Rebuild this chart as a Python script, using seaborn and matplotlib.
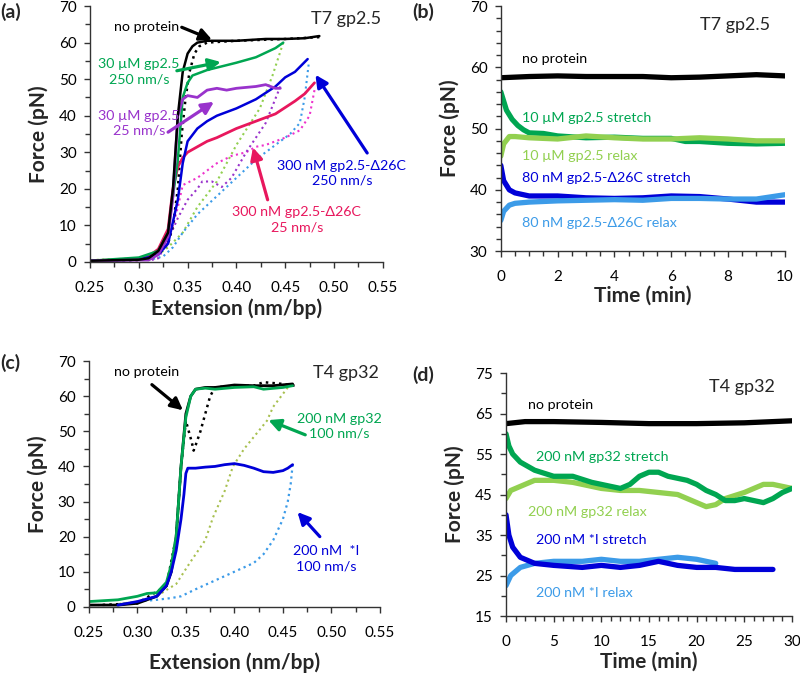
import numpy as np
import pandas as pd
import seaborn as sns
import matplotlib.pyplot as plt
from matplotlib.ticker import MultipleLocator

sns.set_theme(style="ticks")
plt.rcParams['font.family'] = ['Lato', 'DejaVu Sans']

# ---------------- data: panel (a) T7 gp2.5 force-extension ----------------
a_np_str_x = [0.25, 0.28, 0.30, 0.31, 0.32, 0.33, 0.335, 0.34, 0.345, 0.35, 0.355, 0.36, 0.37, 0.40, 0.43, 0.45, 0.47, 0.485]
a_np_str_y = [0.3, 0.5, 0.6, 1.0, 3.0, 8.0, 20, 40, 52, 57, 59, 60, 60.5, 60.5, 61, 61, 61.2, 61.8]
a_np_rel_x = [0.485, 0.45, 0.40, 0.37, 0.362, 0.357, 0.352, 0.348, 0.344, 0.34, 0.335, 0.33, 0.32, 0.30, 0.25]
a_np_rel_y = [61.5, 61, 60.5, 60, 59, 57, 52, 45, 35, 20, 10, 5, 2, 0.5, 0.3]

a_g_str_x = [0.25, 0.30, 0.32, 0.33, 0.34, 0.345, 0.35, 0.355, 0.37, 0.40, 0.42, 0.44, 0.448]
a_g_str_y = [0.3, 1.2, 3, 8, 28, 45, 49, 51, 52.5, 54.5, 56, 58.5, 60]
a_g_rel_x = [0.448, 0.437, 0.424, 0.40, 0.38, 0.36, 0.345, 0.33, 0.32, 0.30, 0.25]
a_g_rel_y = [60, 51, 42, 32, 22, 15, 8, 4, 2, 1, 0.5]

a_p_str_x = [0.25, 0.30, 0.31, 0.32, 0.33, 0.335, 0.34, 0.345, 0.35, 0.36, 0.37, 0.38, 0.39, 0.40, 0.42, 0.43, 0.44, 0.445]
a_p_str_y = [0.3, 0.5, 0.5, 2, 7, 18, 40, 44.5, 45.5, 45, 47, 47.5, 47, 47.5, 48, 48.5, 47.5, 47.5]
a_p_rel_x = [0.445, 0.43, 0.41, 0.395, 0.385, 0.375, 0.365, 0.36, 0.35, 0.34, 0.33, 0.32, 0.31]
a_p_rel_y = [48, 38, 30, 23, 20.5, 22, 22, 20, 17, 12, 6, 1, 0.3]

a_r_str_x = [0.25, 0.30, 0.31, 0.32, 0.33, 0.335, 0.34, 0.345, 0.35, 0.36, 0.37, 0.38, 0.40, 0.42, 0.44, 0.46, 0.47, 0.48]
a_r_str_y = [0.3, 0.8, 1.5, 3.5, 9, 20, 26, 28.5, 30, 31.5, 33, 34, 36.5, 38.5, 40.5, 44, 46, 49]
a_r_rel_x = [0.48, 0.475, 0.465, 0.45, 0.43, 0.42, 0.41, 0.395, 0.38, 0.36, 0.345, 0.34, 0.335, 0.33, 0.32, 0.30, 0.25]
a_r_rel_y = [47, 40, 36, 34, 32, 31.5, 30, 29, 27, 23, 21, 15, 10, 6, 2, 0.5, 0.3]

a_b_str_x = [0.25, 0.30, 0.32, 0.33, 0.34, 0.345, 0.35, 0.36, 0.37, 0.38, 0.40, 0.42, 0.44, 0.45, 0.46, 0.473]
a_b_str_y = [0.3, 0.6, 2, 5, 17, 27, 33, 36.5, 38.5, 40, 42, 44.5, 48, 50.5, 52, 55.5]
a_b_rel_x = [0.474, 0.47, 0.465, 0.455, 0.44, 0.42, 0.40, 0.38, 0.36, 0.345, 0.335, 0.325, 0.31]
a_b_rel_y = [54, 45, 38, 35, 32, 28, 23, 18, 13, 8, 4, 1.5, 0.5]

# ---------------- data: panel (b) T7 gp2.5 force vs time ----------------
b_np_t = [0, 1, 2, 3, 4, 5, 6, 7, 8, 9, 10]
b_np_f = [58.3, 58.5, 58.6, 58.5, 58.5, 58.5, 58.3, 58.4, 58.6, 58.8, 58.6]
b_gs_t = [0, 0.1, 0.2, 0.4, 0.6, 0.8, 1, 1.5, 2, 3, 4, 5, 6, 6.5, 7, 8, 9, 10]
b_gs_f = [56, 54.5, 53, 51.5, 50.5, 49.8, 49.3, 49.2, 48.8, 48.5, 48.6, 48.4, 48.4, 47.9, 47.9, 47.6, 47.5, 47.6]
b_gr_t = [0, 0.1, 0.3, 0.5, 1, 2, 3, 4, 5, 6, 7, 8, 9, 10]
b_gr_f = [45.5, 47.5, 48.7, 48.7, 48.5, 48.3, 48.8, 48.5, 48.3, 48.3, 48.5, 48.3, 48.0, 48.0]
b_bs_t = [0, 0.1, 0.3, 0.5, 1, 2, 3, 4, 5, 6, 7, 8, 9, 10]
b_bs_f = [44, 41.5, 40, 39.5, 39, 39, 38.7, 38.6, 38.7, 39, 38.9, 38.5, 38, 38]
b_br_t = [0, 0.1, 0.3, 0.5, 1, 2, 3, 4, 5, 6, 7, 8, 9, 10]
b_br_f = [35, 36.5, 37.5, 37.8, 38, 38.2, 38.3, 38.4, 38.3, 38.6, 38.6, 38.5, 38.5, 39.2]

# ---------------- data: panel (c) T4 gp32 force-extension ----------------
c_np_str_x = [0.25, 0.28, 0.30, 0.32, 0.33, 0.335, 0.34, 0.345, 0.35, 0.355, 0.36, 0.37, 0.38, 0.40, 0.42, 0.44, 0.46]
c_np_str_y = [0.5, 0.5, 1, 3, 6, 10, 20, 40, 55, 60, 62, 62.5, 62.5, 63.2, 63, 63, 63.5]
c_np_rel_x = [0.462, 0.45, 0.43, 0.42, 0.40, 0.38, 0.375, 0.37, 0.365, 0.36, 0.358, 0.356, 0.353, 0.35, 0.345, 0.34, 0.33, 0.30, 0.26]
c_np_rel_y = [63, 63.5, 64, 63, 63, 62.5, 60, 55, 50, 46, 44.5, 47, 50, 53, 40, 20, 6, 1, 0.5]
c_g_str_x = [0.25, 0.28, 0.30, 0.31, 0.32, 0.33, 0.335, 0.34, 0.345, 0.35, 0.355, 0.36, 0.37, 0.38, 0.40, 0.42, 0.43, 0.45, 0.46]
c_g_str_y = [1.5, 2, 3, 3.8, 4, 7, 12, 20, 40, 54, 60, 62, 62.3, 62, 62.5, 62.7, 62, 62.5, 63]
c_g_rel_x = [0.455, 0.44, 0.4335, 0.41, 0.3985, 0.39, 0.378, 0.37, 0.354, 0.34, 0.33, 0.32, 0.30, 0.28]
c_g_rel_y = [62.5, 57, 53, 45, 40, 33, 25.5, 19, 12.5, 6.5, 4.8, 3, 1.5, 0.8]
c_b_str_x = [0.28, 0.30, 0.32, 0.33, 0.335, 0.34, 0.345, 0.348, 0.35, 0.352, 0.36, 0.37, 0.38, 0.39, 0.40, 0.41, 0.42, 0.43, 0.44, 0.45, 0.455, 0.46]
c_b_str_y = [0.5, 1.5, 3, 6, 10, 16, 25, 32, 38, 39.5, 39.5, 39.8, 40, 40.5, 40.8, 40.3, 39.5, 38.5, 38.3, 38.8, 39.5, 40.5]
c_b_rel_x = [0.46, 0.458, 0.455, 0.45, 0.44, 0.43, 0.42, 0.40, 0.38, 0.36, 0.345, 0.335, 0.32, 0.30, 0.28]
c_b_rel_y = [40.5, 35, 30, 25, 19, 15, 12.5, 10, 7.5, 5, 3, 2.5, 2, 1.5, 0.5]

# ---------------- data: panel (d) T4 gp32 force vs time ----------------
d_np_t = [0, 2, 5, 10, 15, 20, 25, 28, 30]
d_np_f = [62.5, 63, 63, 62.8, 62.5, 62.5, 62.7, 63, 63.2]
d_gs_t = [0, 0.3, 0.7, 1.5, 3, 5, 7, 9, 11, 12, 13, 14, 15, 16, 17, 19, 20, 21, 22, 23, 24, 25, 26, 27, 28, 29, 30]
d_gs_f = [60, 57, 55, 53, 51, 49.5, 49.5, 48, 47, 46.5, 47.5, 49.5, 50.5, 50.5, 49.5, 48.5, 47.5, 46, 45, 43.5, 43.5, 44, 43.5, 43, 44, 45.5, 46.5]
d_gr_t = [0, 0.5, 1.5, 3, 5, 7, 9, 10, 12, 14, 16, 18, 20, 21, 22, 23, 25, 27, 28, 29, 30]
d_gr_f = [44, 46, 47, 48.5, 48.5, 48, 47, 46.5, 46, 46, 45.5, 45, 43, 42, 42.5, 44, 45.5, 47.5, 47.5, 47, 46.5]
d_bs_t = [0, 0.3, 0.7, 1.5, 3, 5, 8, 10, 12, 14, 16, 18, 20, 22, 24, 26, 28]
d_bs_f = [40, 35, 32, 29.5, 28, 27.5, 27, 27.5, 27, 27.5, 28.5, 27.5, 27, 27, 26.5, 26.5, 26.5]
d_br_t = [0, 0.5, 1.5, 3, 5, 8, 10, 12, 14, 16, 18, 20, 22]
d_br_f = [22.5, 25, 27, 28, 28.5, 28.5, 29, 28.5, 28.5, 29, 29.5, 29, 28]

# colours
BLACK = "#000000"
GREEN = "#00A651"
LGREEN = "#92D050"
PURPLE = "#9933CC"
MAGENTA = "#EE33CC"
RED = "#E8175D"
BLUE = "#0000D8"
LBLUE = "#3C9BE8"

FS = 10.3


def curve(ax, x, y, color, ls="-", lw=1.8):
    df = pd.DataFrame({"x": x, "y": y})
    sns.lineplot(data=df, x="x", y="y", ax=ax, color=color, linestyle=ls,
                 linewidth=lw, sort=False, estimator=None)


def arrow(ax, text, xy, xytext, color, tx, ty, ha="center"):
    ax.annotate("", xy=xy, xytext=xytext,
                arrowprops=dict(arrowstyle="-|>,head_length=0.6,head_width=0.3",
                                color=color, lw=2.3, shrinkA=0, shrinkB=0))
    if text:
        ax.text(tx, ty, text, color=color, ha=ha, va="center", fontsize=FS,
                linespacing=1.3)


def style(ax, xlim, ylim, xmaj, xmin, ymaj, ymin, xlabel, fmt=None, yoff=0.0, xlpad=4):
    ax.set_xlim(*xlim)
    ax.set_ylim(*ylim)
    ax.xaxis.set_major_locator(MultipleLocator(xmaj))
    ax.xaxis.set_minor_locator(MultipleLocator(xmin))
    ax.yaxis.set_major_locator(MultipleLocator(ymaj, offset=yoff))
    ax.yaxis.set_minor_locator(MultipleLocator(ymin))
    if fmt:
        ax.xaxis.set_major_formatter(fmt)
    ax.tick_params(which="both", direction="out", labelsize=11, width=1, colors="#333333",
                   labelcolor="black")
    ax.tick_params(which="major", length=4)
    ax.tick_params(which="minor", length=3.5)
    ax.tick_params(axis="x", which="major", pad=9.5)
    ax.tick_params(axis="y", which="major", pad=5.5)
    for s in ["top", "right"]:
        ax.spines[s].set_visible(False)
    for s in ["left", "bottom"]:
        ax.spines[s].set_color("#333333")
        ax.spines[s].set_linewidth(1)
    ax.set_xlabel(xlabel, fontsize=15, fontweight="bold", labelpad=xlpad)
    ax.set_ylabel("Force (pN)", fontsize=15, fontweight="bold", labelpad=7)


fig = plt.figure(figsize=(8, 6.75), dpi=100)
ax_a = fig.add_axes([0.1125, 0.612, 0.366, 0.379])
ax_b = fig.add_axes([0.626, 0.628, 0.355, 0.363])
ax_c = fig.add_axes([0.111, 0.101, 0.364, 0.364])
ax_d = fig.add_axes([0.6325, 0.0874, 0.3575, 0.36])

# ---- (a)
curve(ax_a, a_g_rel_x, a_g_rel_y, LGREEN, ":", 1.5)
curve(ax_a, a_b_rel_x, a_b_rel_y, LBLUE, ":", 1.5)
curve(ax_a, a_r_rel_x, a_r_rel_y, MAGENTA, ":", 1.5)
curve(ax_a, a_p_rel_x, a_p_rel_y, PURPLE, ":", 1.5)
curve(ax_a, a_np_rel_x, a_np_rel_y, BLACK, ":", 1.8)
curve(ax_a, a_r_str_x, a_r_str_y, RED, "-", 2.0)
curve(ax_a, a_b_str_x, a_b_str_y, BLUE, "-", 1.8)
curve(ax_a, a_g_str_x, a_g_str_y, GREEN, "-", 1.8)
curve(ax_a, a_p_str_x, a_p_str_y, PURPLE, "-", 2.0)
curve(ax_a, a_np_str_x, a_np_str_y, BLACK, "-", 1.8)
style(ax_a, (0.25, 0.55), (0, 70), 0.05, 0.025, 10, 5, "Extension (nm/bp)", "{x:.2f}", xlpad=3)
arrow(ax_a, "no protein", (0.375, 60.8), (0.344, 64.2), BLACK, 0.308, 64.3)
arrow(ax_a, "30 \u00b5M gp2.5\n250 nm/s", (0.384, 54.7), (0.339, 52.3), GREEN, 0.300, 52.0)
arrow(ax_a, "30 \u00b5M gp2.5\n25 nm/s", (0.377, 43.8), (0.330, 35.5), PURPLE, 0.300, 38.0)
arrow(ax_a, "300 nM gp2.5-\u039426C\n250 nm/s", (0.481, 51.2), (0.534, 29.8), BLUE, 0.508, 24.3)
arrow(ax_a, "300 nM gp2.5-\u039426C\n25 nm/s", (0.417, 31.3), (0.432, 17.0), RED, 0.462, 11.5)
ax_a.text(0.548, 66.5, "T7 gp2.5", ha="right", va="center", fontsize=13)

# ---- (b)
lw_t = 3.8
curve(ax_b, b_np_t, b_np_f, BLACK, "-", lw_t)
curve(ax_b, b_gs_t, b_gs_f, GREEN, "-", lw_t)
curve(ax_b, b_gr_t, b_gr_f, LGREEN, "-", lw_t)
curve(ax_b, b_bs_t, b_bs_f, BLUE, "-", lw_t)
curve(ax_b, b_br_t, b_br_f, LBLUE, "-", lw_t)
style(ax_b, (0, 10), (30, 70), 2, 0.5, 10, 2, "Time (min)", xlpad=1)
tb = dict(ha="left", va="center", fontsize=FS)
ax_b.text(0.74, 61.3, "no protein", color=BLACK, **tb)
ax_b.text(0.74, 51.7, "10 \u00b5M gp2.5 stretch", color=GREEN, **tb)
ax_b.text(0.74, 45.5, "10 \u00b5M gp2.5 relax", color=LGREEN, **tb)
ax_b.text(0.74, 41.9, "80 nM gp2.5-\u039426C stretch", color=BLUE, **tb)
ax_b.text(0.74, 34.6, "80 nM gp2.5-\u039426C relax", color=LBLUE, **tb)
ax_b.text(9.5, 66.9, "T7 gp2.5", ha="right", va="center", fontsize=13)

# ---- (c)
curve(ax_c, c_g_rel_x, c_g_rel_y, "#A8C050", ":", 1.5)
curve(ax_c, c_b_rel_x, c_b_rel_y, LBLUE, ":", 1.6)
curve(ax_c, c_np_rel_x, c_np_rel_y, BLACK, ":", 1.8)
curve(ax_c, c_np_str_x, c_np_str_y, BLACK, "-", 2.0)
curve(ax_c, c_g_str_x, c_g_str_y, GREEN, "-", 2.0)
curve(ax_c, c_b_str_x, c_b_str_y, BLUE, "-", 2.0)
style(ax_c, (0.25, 0.55), (0, 70), 0.05, 0.025, 10, 5, "Extension (nm/bp)", "{x:.2f}", xlpad=9)
arrow(ax_c, "no protein", (0.347, 56.0), (0.315, 63.3), BLACK, 0.309, 67.0)
arrow(ax_c, "200 nM gp32\n100 nm/s", (0.435, 53.2), (0.473, 49.0), GREEN, 0.508, 51.5)
arrow(ax_c, "200 nM  *I\n100 nm/s", (0.465, 27.0), (0.488, 20.0), BLUE, 0.495, 13.7)
ax_c.text(0.549, 66.6, "T4 gp32", ha="right", va="center", fontsize=13)

# ---- (d)
curve(ax_d, d_np_t, d_np_f, BLACK, "-", lw_t)
curve(ax_d, d_gr_t, d_gr_f, LGREEN, "-", lw_t)
curve(ax_d, d_gs_t, d_gs_f, GREEN, "-", lw_t)
curve(ax_d, d_br_t, d_br_f, LBLUE, "-", lw_t)
curve(ax_d, d_bs_t, d_bs_f, BLUE, "-", lw_t)
style(ax_d, (0, 30), (15, 75), 5, 1, 10, 5, "Time (min)", yoff=5, xlpad=2)
ax_d.text(2.3, 67.1, "no protein", color=BLACK, **tb)
ax_d.text(3.1, 54.3, "200 nM gp32 stretch", color=GREEN, **tb)
ax_d.text(2.3, 40.7, "200 nM gp32 relax", color=LGREEN, **tb)
ax_d.text(3.1, 33.8, "200 nM *I stretch", color=BLUE, **tb)
ax_d.text(3.1, 20.7, "200 nM *I relax", color=LBLUE, **tb)
ax_d.text(28.2, 71.5, "T4 gp32", ha="right", va="center", fontsize=13)

# panel letters
for x, y, s in [(0.0, 0.982, "(a)"), (0.515, 0.982, "(b)"), (0.0, 0.463, "(c)"), (0.515, 0.444, "(d)")]:
    fig.text(x, y, s, fontsize=14, fontweight="bold", ha="left", va="center")

fig.savefig("out.png", dpi=100)
